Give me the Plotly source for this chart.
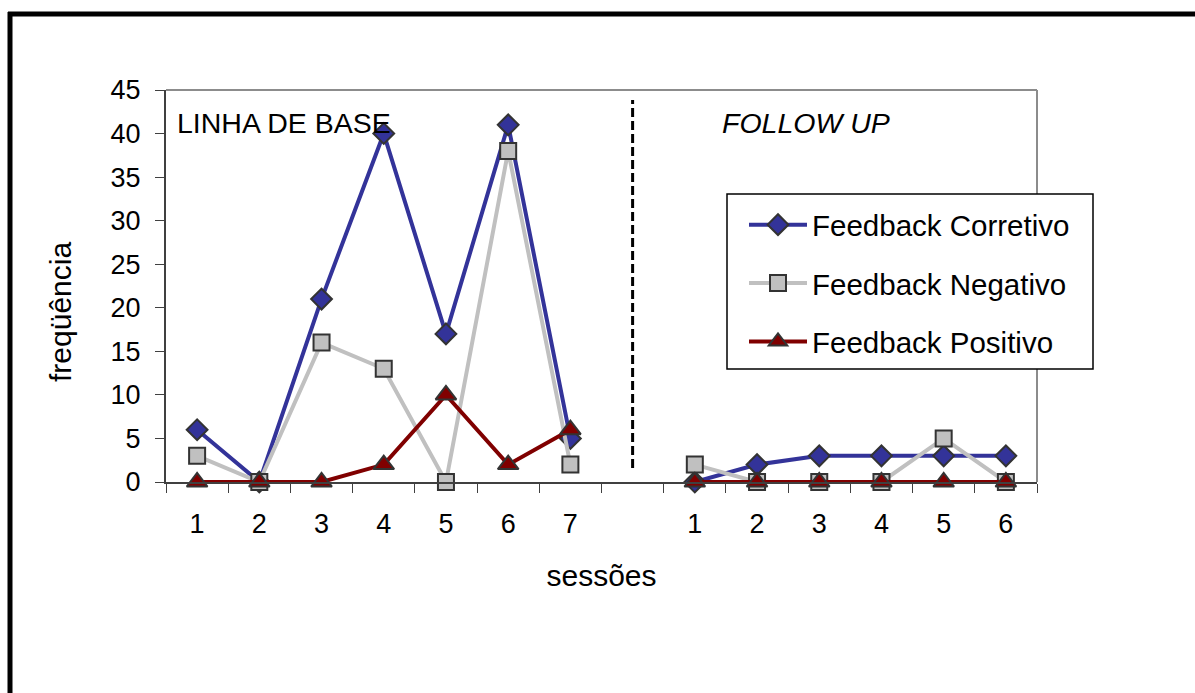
import plotly.graph_objects as go

# Session labels: 7 baseline sessions, an empty slot, 6 follow-up sessions
session_labels = ["1", "2", "3", "4", "5", "6", "7", "", "1", "2", "3", "4", "5", "6"]
positions = list(range(1, len(session_labels) + 1))

corretivo = [6, 0, 21, 40, 17, 41, 5, None, 0, 2, 3, 3, 3, 3]
negativo = [3, 0, 16, 13, 0, 38, 2, None, 2, 0, 0, 0, 5, 0]
positivo = [0, 0, 0, 2, 10, 2, 6, None, 0, 0, 0, 0, 0, 0]

series_names = ["Feedback Corretivo", "Feedback Negativo", "Feedback Positivo"]
series_values = [corretivo, negativo, positivo]
line_colors = ["#333399", "#C0C0C0", "#800000"]
marker_symbols = ["diamond", "square", "triangle-up"]
marker_sizes = [16, 16, 18]

W, H = 1195, 693
L, R, T, B = 166, 158, 90, 211
PW, PH = W - L - R, H - T - B

FONT = "Arial, Liberation Sans, sans-serif"
AXIS_DARK = "#404040"
FRAME_GRAY = "#8C8C8C"
TICK_SIZE = 27
LEGEND_SIZE = 29.5
NOTE_SIZE = 28.5
TITLE_SIZE = 30


def px_x(x):
    return (x - L) / PW


def px_y(y):
    return (H - B - y) / PH


fig = go.Figure()
for i, (name, vals) in enumerate(zip(series_names, series_values)):
    fig.add_trace(go.Scatter(
        x=positions, y=vals, name=name, mode="lines+markers",
        connectgaps=False, legendgroup=f"g{i}", cliponaxis=False,
        line=dict(color=line_colors[i], width=4),
        marker=dict(symbol=marker_symbols[i], size=marker_sizes[i],
                    color=line_colors[i],
                    line=dict(color="#333333", width=2)),
    ))

shapes = [
    # top and right edges of the plotting area
    dict(type="line", xref="paper", yref="paper", x0=0, x1=1, y0=1, y1=1,
         line=dict(color=FRAME_GRAY, width=2)),
    dict(type="line", xref="paper", yref="paper", x0=1, x1=1, y0=0, y1=1,
         line=dict(color=FRAME_GRAY, width=2)),
    # separator between baseline and follow-up
    dict(type="line", xref="x", yref="paper", x0=8, x1=8,
         y0=px_y(468), y1=px_y(100),
         line=dict(color="black", width=3, dash="9px,4px")),
    # legend frame
    dict(type="rect", xref="paper", yref="paper", layer="above",
         x0=px_x(727), x1=px_x(1093), y0=px_y(369), y1=px_y(194),
         fillcolor="white", line=dict(color="black", width=1.5)),
    # outer frame (top and left)
    dict(type="line", xref="paper", yref="paper",
         x0=px_x(8), x1=px_x(W + 5), y0=px_y(14), y1=px_y(14),
         line=dict(color="black", width=5)),
    dict(type="line", xref="paper", yref="paper",
         x0=px_x(10), x1=px_x(10), y0=px_y(12), y1=px_y(H + 5),
         line=dict(color="black", width=5)),
]

fig.update_layout(
    width=W, height=H,
    margin=dict(l=L, r=R, t=T, b=B, pad=0),
    paper_bgcolor="white", plot_bgcolor="white",
    font=dict(family=FONT, size=TICK_SIZE, color="black"),
    showlegend=True,
    legend=dict(
        x=px_x(744), y=px_y(199), xanchor="left", yanchor="top",
        bgcolor="rgba(0,0,0,0)", borderwidth=0,
        font=dict(family=FONT, size=LEGEND_SIZE, color="black"),
        tracegroupgap=17, itemwidth=58,
    ),
    shapes=shapes,
    annotations=[
        dict(text="LINHA DE BASE", xref="paper", yref="paper",
             x=px_x(175), y=px_y(123), xanchor="left", yanchor="middle",
             showarrow=False, font=dict(family=FONT, size=NOTE_SIZE)),
        dict(text="<i>FOLLOW UP</i>", xref="paper", yref="paper",
             x=px_x(720), y=px_y(123), xanchor="left", yanchor="middle",
             showarrow=False, font=dict(family=FONT, size=NOTE_SIZE)),
        # value-axis title
        dict(text="freqüência", xref="paper", yref="paper", textangle=-90,
             x=px_x(60), y=px_y(312), xanchor="center", yanchor="middle",
             showarrow=False, font=dict(family=FONT, size=TITLE_SIZE)),
    ],
)

fig.update_xaxes(
    range=[0.5, len(session_labels) + 0.5],
    tickmode="array", tickvals=positions, ticktext=session_labels,
    ticks="outside", ticklen=17, tickcolor="rgba(0,0,0,0)",
    minor=dict(tickmode="array",
               tickvals=[p + 0.5 for p in [0] + positions],
               ticks="outside", ticklen=9, tickcolor=AXIS_DARK, tickwidth=1),
    showline=True, linecolor=AXIS_DARK, linewidth=2,
    showgrid=False, zeroline=False,
    tickfont=dict(family=FONT, size=TICK_SIZE),
    title=dict(text="sessões", standoff=27, font=dict(family=FONT, size=TITLE_SIZE)),
)

fig.update_yaxes(
    range=[0, 45], tickmode="linear", tick0=0, dtick=5,
    ticks="outside", ticklen=9, tickcolor=AXIS_DARK,
    ticklabelstandoff=9,
    showline=True, linecolor=AXIS_DARK, linewidth=2,
    showgrid=False, zeroline=False,
    tickfont=dict(family=FONT, size=TICK_SIZE),
)

fig.write_html("out.html")
